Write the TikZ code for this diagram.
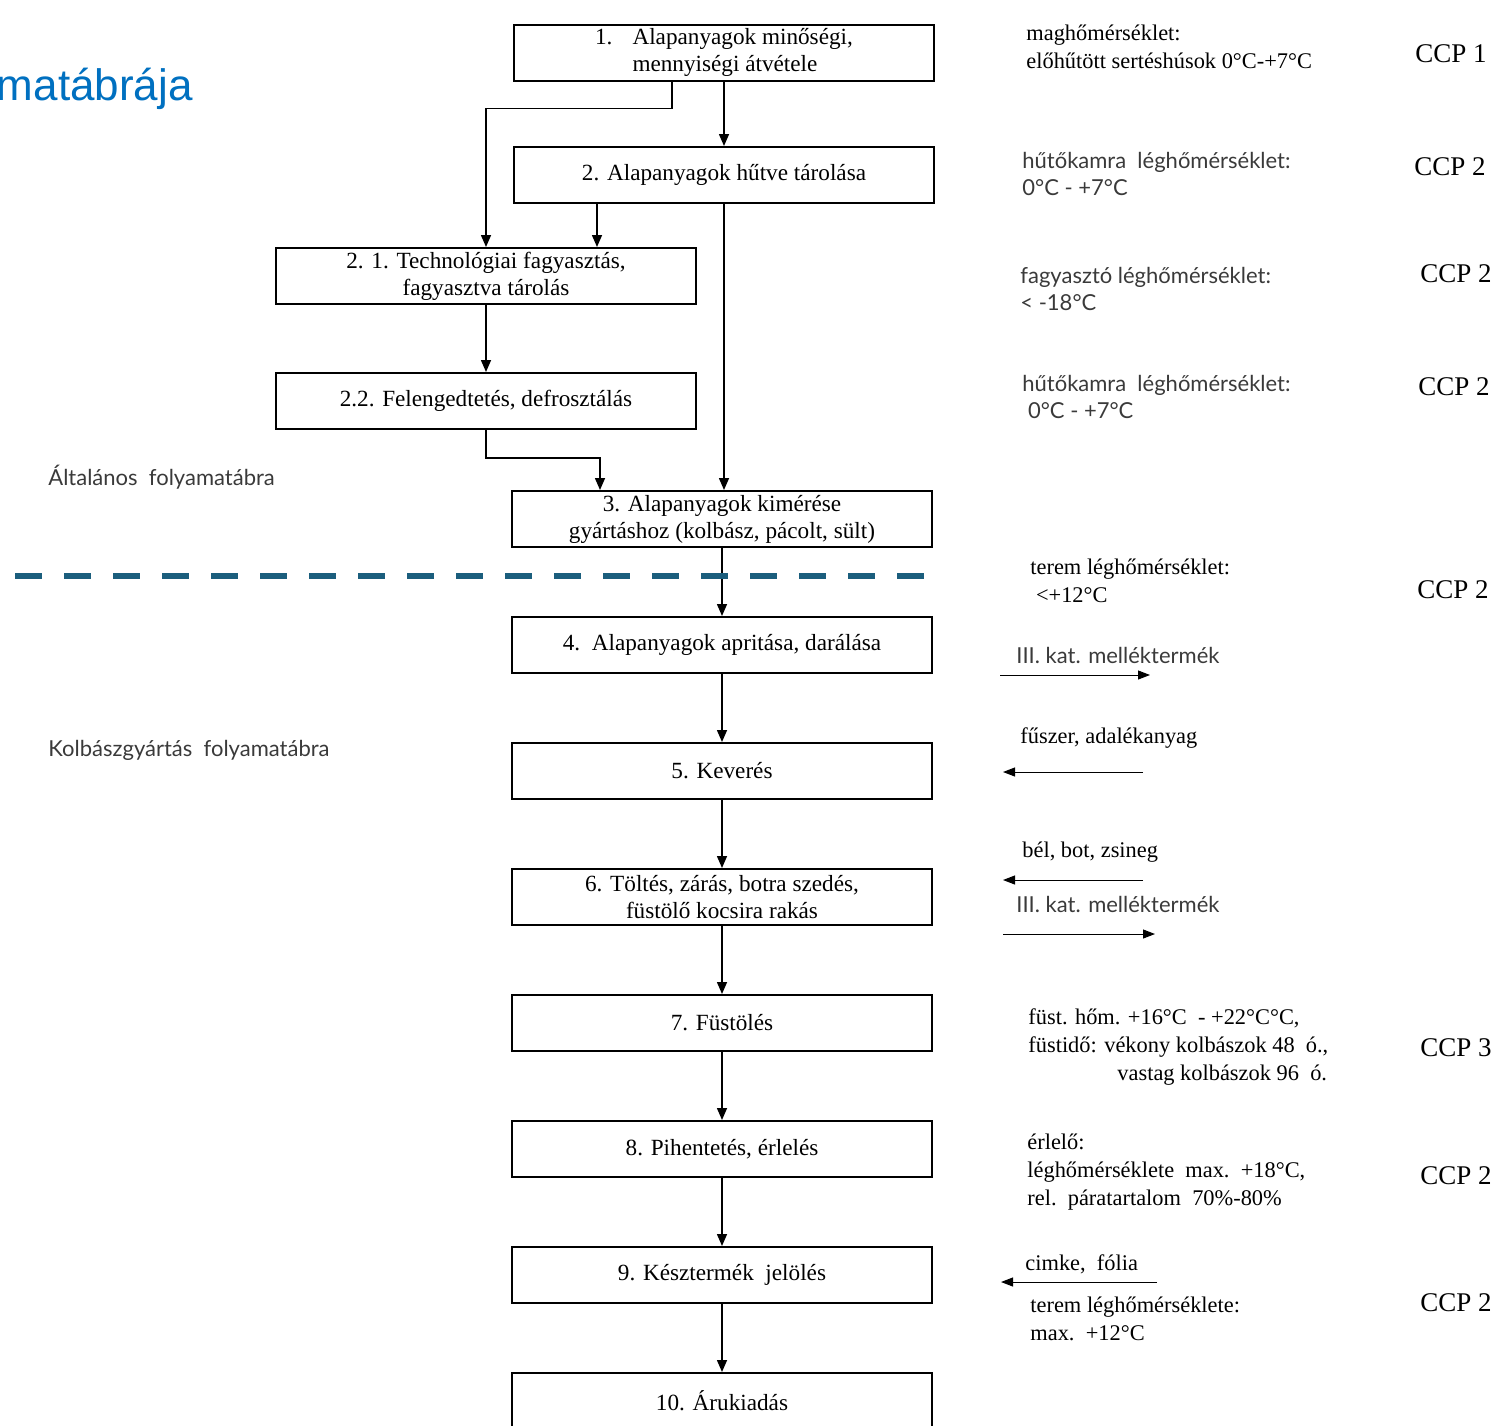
\documentclass[tikz,border=0pt]{standalone}
\usepackage{fontspec}
\setmainfont{Liberation Serif}
\newfontfamily\labelsans{Lato}
\newfontfamily\titlesans{Liberation Sans}
\usetikzlibrary{arrows.meta,calc}
\definecolor{titleblue}{HTML}{0070C0}
\definecolor{dashteal}{HTML}{1B5E7D}
\definecolor{graytext}{HTML}{3A3A3A}
\begin{document}
\begin{tikzpicture}[x=0.5pt,y=-0.5pt,
 box/.style={draw, line width=1pt, minimum width=210pt, minimum height=28pt, inner sep=0pt, align=center, font=\fontsize{11.6}{13.5}\selectfont},
 flow/.style={line width=0.75pt, -{Triangle[length=6pt,width=5pt]}},
 side/.style={line width=0.5pt, -{Triangle[length=6pt,width=4.5pt]}},
 note/.style={anchor=base west, align=left, inner sep=0pt, font=\fontsize{11.2}{13.8}\selectfont},
 snote/.style={anchor=base west, align=left, inner sep=0pt, font=\labelsans\fontsize{11}{13.5}\selectfont, text=graytext},
 ccp/.style={anchor=base west, inner sep=0pt, font=\fontsize{13.5}{16}\selectfont},
 dashline/.style={line width=3pt, dashteal, dash pattern=on 13.5pt off 11pt},
]
\useasboundingbox (0,0) rectangle (1499,1425);
\clip (0,0) rectangle (1499,1425);

% title
\node[anchor=base east, inner sep=0pt, font=\titlesans\fontsize{22}{26}\selectfont, text=titleblue] (title) at (193,100) {matábrája};

% boxes
\node[box] (b1) at (724,52.5) {\begin{tabular}{@{}l@{\hspace{10pt}}l@{}}1. & Alapanyagok minőségi,\\ & mennyiségi átvétele\end{tabular}};
\node[box] (b2) at (724,175) {2. Alapanyagok hűtve tárolása};
\node[box] (b21) at (486,276) {2. 1. Technológiai fagyasztás,\\fagyasztva tárolás};
\node[box] (b22) at (486,401) {2.2. Felengedtetés, defrosztálás};
\node[box] (b3) at (722,519) {3. Alapanyagok kimérése\\gyártáshoz (kolbász, pácolt, sült)};
\node[box] (b4) at (722,645) {4.\ \ Alapanyagok apritása, darálása};
\node[box] (b5) at (722,771) {5. Keverés};
\node[box] (b6) at (722,897) {6. Töltés, zárás, botra szedés,\\füstölő kocsira rakás};
\node[box] (b7) at (722,1023) {7. Füstölés};
\node[box] (b8) at (722,1149) {8. Pihentetés, érlelés};
\node[box] (b9) at (722,1275) {9. Késztermék\ \ jelölés};
\node[box] (b10) at (722,1401) {10. Árukiadás};

% main connectors
\coordinate (b1l) at ($(b1.south)+(-52,0)$);
\coordinate (b2l) at ($(b2.south)+(-127,0)$);
\coordinate (b3l) at ($(b3.north)+(-122,0)$);
\draw[flow] (b1.south) -- (b2.north);
\draw[flow] (b1l) -- ++(0,27) -| (b21.north);
\draw[flow] (b2l) -- (b2l |- b21.north);
\draw[flow] (b2.south) -- (b2.south |- b3.north);
\draw[flow] (b21.south) -- (b22.north);
\draw[flow] (b22.south) -- ++(0,28) -| (b3l);
\draw[flow] (b3.south) -- (b4.north);
\draw[flow] (b4.south) -- (b5.north);
\draw[flow] (b5.south) -- (b6.north);
\draw[flow] (b6.south) -- (b7.north);
\draw[flow] (b7.south) -- (b8.north);
\draw[flow] (b8.south) -- (b9.north);
\draw[flow] (b9.south) -- (b10.north);

% dashed separator
\coordinate (d1) at (15,576);
\coordinate (d2) at (926,576);
\draw[dashline] (d1) -- (d2);

% left labels
\node[snote] (lab1) at (48,485) {Általános\ \ folyamatábra};
\node[snote] (lab2) at (48,756) {Kolbászgyártás\ \ folyamatábra};

% right notes (anchor = baseline of last line)
\node[note] (n1) at (1026,68) {maghőmérséklet:\\előhűtött sertéshúsok 0°C-+7°C};
\node[ccp] (c1) at (1415,62) {CCP 1};
\node[snote] (n2) at (1022,195) {hűtőkamra\ \ léghőmérséklet:\\0°C - +7°C};
\node[ccp] (c2) at (1414,175) {CCP 2};
\node[snote] (n3) at (1020,310) {fagyasztó léghőmérséklet:\\< -18°C};
\node[ccp] (c3) at (1420,282) {CCP 2};
\node[snote] (n4) at (1022,418) {hűtőkamra\ \ léghőmérséklet:\\\ 0°C - +7°C};
\node[ccp] (c4) at (1418,395) {CCP 2};
\node[note] (n5) at (1030,602) {terem léghőmérséklet:\\\ <+12°C};
\node[ccp] (c5) at (1417,598) {CCP 2};

\node[snote] (s1) at (1016,663) {III. kat. melléktermék};
\coordinate (s1a) at (1000,675); \coordinate (s1b) at (1150,675);
\draw[side] (s1a) -- (s1b);
\node[note] (s2) at (1020,743) {fűszer, adalékanyag};
\coordinate (s2a) at (1143,772); \coordinate (s2b) at (1003,772);
\draw[side] (s2a) -- (s2b);
\node[note] (s3) at (1022,857) {bél, bot, zsineg};
\coordinate (s3a) at (1143,880); \coordinate (s3b) at (1003,880);
\draw[side] (s3a) -- (s3b);
\node[snote] (s4) at (1016,912) {III. kat. melléktermék};
\coordinate (s4a) at (1003,934); \coordinate (s4b) at (1155,934);
\draw[side] (s4a) -- (s4b);

\node[note] (n6) at (1028,1080) {füst. hőm. +16°C\ \ - +22°C°C,\\füstidő: vékony kolbászok 48\ \ ó.,\\\hspace{44.5pt}vastag kolbászok 96\ \ ó.};
\node[ccp] (c6) at (1420,1056) {CCP 3};
\node[note] (n7) at (1027,1205) {érlelő:\\léghőmérséklete\ \ max.\ \ +18°C,\\rel.\ \ páratartalom\ \ 70\%-80\%};
\node[ccp] (c7) at (1420,1184) {CCP 2};
\node[note] (s5) at (1025,1270) {cimke,\ \ fólia};
\coordinate (s5a) at (1157,1282); \coordinate (s5b) at (1001,1282);
\draw[side] (s5a) -- (s5b);
\node[note] (n8) at (1030,1340) {terem léghőmérséklete:\\max.\ \ +12°C};
\node[ccp] (c8) at (1420,1311) {CCP 2};
\end{tikzpicture}
\end{document}
